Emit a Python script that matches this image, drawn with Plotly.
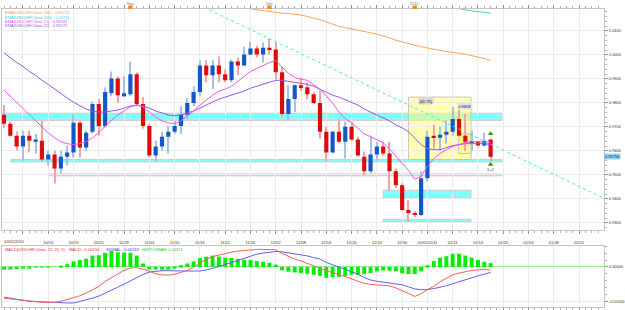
import plotly.graph_objects as go

# ---------------- data ----------------
idx = list(range(78))
opens = [.9750, .9713, .9663, .9618, .9663, .9638, .9642, .9564, .9585, .9527,
         .9576, .9593, .9717, .9614, .9680, .9795, .9704, .9840, .9902, .9828,
         .9836, .9919, .9795, .9704, .9581, .9618, .9659, .9680, .9704, .9750,
         .9799, .9845, .9956, .9915, .9956, .9919, .9894, .9972, .9956, 1.0001,
         1.0026, 1.0001, 1.0030, 1.0022, .9927, .9754, .9816, .9873, .9865, .9836,
         .9799, .9680, .9593, .9680, .9638, .9700, .9647, .9576, .9515, .9585,
         .9618, .9589, .9515, .9457, .9354, .9341, .9333, .9486, .9663, .9655,
         .9667, .9680, .9733, .9663, .9634, .9638, .9622, .9647]
highs = [.9791, .9721, .9680, .9684, .9684, .9671, .9725, .9601, .9601, .9601,
         .9622, .9754, .9725, .9684, .9807, .9816, .9865, .9931, .9910, .9910,
         .9972, .9927, .9824, .9713, .9642, .9680, .9704, .9725, .9787, .9820,
         .9869, .9977, .9977, .9977, .9993, .9939, .9981, .9989, 1.0034, 1.0055,
         1.0038, 1.0051, 1.0067, 1.0051, .9948, .9873, .9877, .9906, .9886, .9845,
         .9849, .9700, .9684, .9733, .9721, .9721, .9659, .9597, .9663, .9638,
         .9638, .9638, .9527, .9465, .9395, .9350, .9515, .9684, .9708, .9700,
         .9725, .9783, .9774, .9754, .9684, .9642, .9675, .9651]
lows = [.9696, .9659, .9601, .9556, .9593, .9589, .9556, .9539, .9465, .9506,
        .9539, .9572, .9572, .9601, .9671, .9663, .9696, .9828, .9799, .9824,
        .9828, .9787, .9692, .9576, .9556, .9601, .9589, .9671, .9671, .9733,
        .9787, .9828, .9886, .9857, .9886, .9886, .9886, .9915, .9952, .9997,
        .9989, .9968, 1.0001, .9898, .9741, .9725, .9762, .9849, .9816, .9795,
        .9651, .9556, .9589, .9634, .9568, .9642, .9576, .9498, .9506, .9556,
        .9581, .9436, .9444, .9350, .9304, .9325, .9329, .9473, .9609, .9601,
        .9630, .9663, .9663, .9601, .9601, .9618, .9618, .9556]
closes = [.9713, .9663, .9618, .9663, .9642, .9647, .9564, .9585, .9527, .9576,
          .9593, .9717, .9614, .9675, .9795, .9704, .9845, .9902, .9832, .9840,
          .9919, .9795, .9704, .9581, .9618, .9659, .9680, .9704, .9750, .9799,
          .9845, .9956, .9915, .9956, .9919, .9894, .9972, .9956, 1.0001, 1.0026,
          1.0001, 1.0030, 1.0022, .9927, .9754, .9816, .9873, .9865, .9836, .9799,
          .9680, .9593, .9680, .9638, .9700, .9647, .9581, .9515, .9585, .9618,
          .9589, .9515, .9457, .9354, .9341, .9333, .9486, .9659, .9655, .9667,
          .9680, .9733, .9663, .9638, .9638, .9622, .9642, .9576]

ema21 = [.9853, .9828, .9803, .9778, .9754, .9729, .9700, .9675, .9655, .9638,
         .9630, .9626, .9630, .9638, .9655, .9675, .9704, .9729, .9750, .9766,
         .9783, .9791, .9783, .9762, .9741, .9725, .9717, .9713, .9725, .9746,
         .9766, .9791, .9812, .9832, .9849, .9857, .9869, .9890, .9910, .9931,
         .9943, .9956, .9968, .9976, .9948, .9923, .9906, .9898, .9894, .9877,
         .9857, .9828, .9799, .9762, .9733, .9717, .9692, .9671, .9659, .9647,
         .9634, .9609, .9576, .9548, .9519, .9482, .9494, .9535, .9568, .9589,
         .9605, .9618, .9626, .9634, .9638, .9638, .9638, .9634]
ema55 = [1.0009, .9989, .9968, .9952, .9931, .9915, .9894, .9877, .9857, .9840,
         .9820, .9803, .9787, .9774, .9766, .9762, .9762, .9766, .9770, .9778,
         .9787, .9791, .9787, .9778, .9766, .9758, .9750, .9746, .9750, .9758,
         .9766, .9778, .9791, .9803, .9816, .9824, .9832, .9840, .9849, .9861,
         .9869, .9877, .9886, .9894, .9894, .9890, .9886, .9882, .9877, .9869,
         .9857, .9845, .9832, .9824, .9812, .9803, .9791, .9774, .9762, .9750,
         .9737, .9725, .9708, .9696, .9680, .9651, .9626, .9609, .9605, .9605,
         .9614, .9622, .9626, .9630, .9630, .9630, .9630, .9626]
ema100_x = list(range(38, 78))
ema100 = [1.0195, 1.0191, 1.0187, 1.0185, 1.0181, 1.0178, 1.0174, 1.0172, 1.0170, 1.0166,
          1.0160, 1.0154, 1.0146, 1.0137, 1.0127, 1.0119, 1.0113, 1.0108, 1.0104, 1.0100,
          1.0092, 1.0086, 1.0080, 1.0071, 1.0061, 1.0053, 1.0047, 1.0040, 1.0034, 1.0028,
          1.0022, 1.0018, 1.0014, 1.0012, 1.0007, 1.0003, .9997, .9991, .9985, .9978]
ema200_x = [72, 73, 74, 75, 76, 77]
ema200 = [1.0193, 1.0187, 1.0183, 1.0180, 1.0177, 1.0174]

macd_hist = [-.0008, -.0008, -.0006, -.0004, -.0004, -.0002, -.0002, -.0001, .0000, .0001,
             .0008, .0016, .0020, .0024, .0033, .0034, .0041, .0046, .0043, .0042,
             .0041, .0033, .0010, -.0008, -.0008, -.0008, -.0008, -.0005, .0005, .0010,
             .0016, .0026, .0030, .0033, .0030, .0027, .0026, .0023, .0021, .0020,
             .0017, .0015, .0012, .0007, -.0010, -.0014, -.0016, -.0018, -.0020, -.0023,
             -.0026, -.0032, -.0030, -.0029, -.0026, -.0023, -.0023, -.0021, -.0018, -.0013,
             -.0010, -.0011, -.0013, -.0019, -.0021, -.0021, -.0013, .0005, .0017, .0027,
             .0031, .0038, .0038, .0033, .0027, .0020, .0015, .0011]
macd_main = [-.0091, -.0093, -.0095, -.0098, -.0100, -.0102, -.0103, -.0103, -.0103, -.0100,
             -.0095, -.0088, -.0084, -.0076, -.0066, -.0057, -.0042, -.0032, -.0020, -.0010,
             -.0003, -.0002, -.0006, -.0014, -.0020, -.0023, -.0024, -.0022, -.0017, -.0010,
             -.0001, .0010, .0022, .0030, .0035, .0039, .0043, .0046, .0048, .0050,
             .0051, .0051, .0051, .0050, .0039, .0030, .0023, .0017, .0010, .0004,
             -.0002, -.0010, -.0017, -.0022, -.0028, -.0034, -.0040, -.0048, -.0051, -.0053,
             -.0054, -.0055, -.0061, -.0068, -.0077, -.0086, -.0078, -.0066, -.0057, -.0043,
             -.0033, -.0023, -.0018, -.0013, -.0010, -.0009, -.0007, -.0009]
macd_signal = [-.0088, -.0091, -.0096, -.0098, -.0100, -.0101, -.0102, -.0104, -.0105, -.0105,
               -.0105, -.0105, -.0101, -.0097, -.0091, -.0085, -.0077, -.0067, -.0059, -.0050,
               -.0040, -.0030, -.0022, -.0015, -.0012, -.0011, -.0011, -.0012, -.0012, -.0012,
               -.0012, -.0012, -.0009, -.0005, .0001, .0007, .0013, .0020, .0027, .0033,
               .0037, .0040, .0043, .0045, .0044, .0041, .0039, .0036, .0032, .0027,
               .0023, .0013, .0006, .0000, -.0008, -.0013, -.0021, -.0031, -.0038, -.0042,
               -.0045, -.0048, -.0050, -.0052, -.0058, -.0064, -.0066, -.0066, -.0063, -.0060,
               -.0055, -.0049, -.0043, -.0036, -.0031, -.0026, -.0021, -.0016]

# trend line anchors (bar index, price)
trend_x = [32.5, 94.9]
trend_y = [1.0187, 0.9403]

# support / resistance zones: (start bar, end bar, low price, high price)
cyan_zones = [(-0.3, 78.8, .9726, .9757), (1.1, 78.8, .9554, .9564),
              (7.1, 78.8, .9496, .9504), (60.0, 73.9, .9403, .9436),
              (60.0, 73.9, .9306, .9315)]
yellow_zones = [(64.0, 73.9, .9564, .9824, 'rgba(255,255,110,0.5)'),
                (71.9, 73.9, .9589, .9671, 'rgba(255,235,60,0.45)')]

grid_idx = list(range(3, 95, 4))
date_labels = ["", "10/13", "10/19", "10/25", "10/29", "11/04", "11/10", "11/16",
               "11/22", "11/26", "12/02", "12/08", "12/14", "12/20", "12/24", "12/30",
               "01/05/2011", "01/11", "01/14", "01/20", "01/24", "01/28", "02/01"]
month_idx = [20, 42, 65]
month_labels = ["Nov", "Dec", "2011"]
price_ticks = [0.93, 0.94, 0.95, 0.96, 0.97, 0.98, 0.99, 1.00, 1.01]
last_price = 0.95756

legend_lines = [("EMA(USDCHF,Close,100) : 0.99753", "#f0a050"),
                ("EMA(USDCHF,Close,200) : 1.01711", "#3cc8c8"),
                ("EMA(USDCHF,Close,21) : 0.96182", "#ee44ee"),
                ("EMA(USDCHF,Close,55) : 0.96279", "#9955ee")]

# ---------------- figure ----------------
FONT = "Liberation Sans"
W, H = 625, 310
ML, MR, MT, MB = 2, 20, 9, 0
PH = H - MT - MB

def py(ypix):
    return (H - MB - ypix) / PH

def px(xpix):
    return (xpix - ML) / (W - ML - MR)

fig = go.Figure()

bull = [c >= o for o, c in zip(opens, closes)]
body_base = [min(o, c) for o, c in zip(opens, closes)]
body_h = [max(abs(c - o), 0.00025) for o, c in zip(opens, closes)]
body_col = ['#1458c8' if b else '#dc0c0c' for b in bull]
wick_h = [h - l for h, l in zip(highs, lows)]
wick_col = ['#a4c2e8' if b else '#f2a4a4' for b in bull]

# wicks then bodies (bars keep trace order)
fig.add_trace(go.Bar(x=idx, y=wick_h, base=lows, width=0.17,
                     marker=dict(color=wick_col, line=dict(width=0)),
                     xaxis='x', yaxis='y', showlegend=False, hoverinfo='skip'))
fig.add_trace(go.Bar(x=idx, y=body_h, base=body_base, width=0.66,
                     marker=dict(color=body_col, line=dict(width=0)),
                     xaxis='x', yaxis='y', showlegend=False))

fig.add_trace(go.Scatter(x=idx, y=ema55, mode='lines', line=dict(color='#9955ee', width=1),
                         xaxis='x', yaxis='y', showlegend=False))
fig.add_trace(go.Scatter(x=idx, y=ema21, mode='lines', line=dict(color='#ee55ee', width=1),
                         xaxis='x', yaxis='y', showlegend=False))
fig.add_trace(go.Scatter(x=ema100_x, y=ema100, mode='lines', line=dict(color='#f5a55a', width=1),
                         xaxis='x', yaxis='y', showlegend=False))
fig.add_trace(go.Scatter(x=ema200_x, y=ema200, mode='lines', line=dict(color='#40d0d0', width=1),
                         xaxis='x', yaxis='y', showlegend=False))
fig.add_trace(go.Scatter(x=trend_x, y=trend_y, mode='lines',
                         line=dict(color='#40e8e8', width=1, dash='dot'),
                         xaxis='x', yaxis='y', showlegend=False))

# arrows on last bar
fig.add_trace(go.Scatter(x=[77, 77], y=[0.9671, 0.9543], mode='markers',
                         marker=dict(symbol='triangle-up', size=5, color='#2f9a1c'),
                         xaxis='x', yaxis='y', showlegend=False))

# MACD panel
fig.add_trace(go.Bar(x=idx, y=macd_hist, width=0.62, marker=dict(color='#00f000', line=dict(width=0)),
                     xaxis='x2', yaxis='y2', showlegend=False))
fig.add_trace(go.Scatter(x=idx, y=macd_signal, mode='lines', line=dict(color='#6060f0', width=1),
                         xaxis='x2', yaxis='y2', showlegend=False))
fig.add_trace(go.Scatter(x=idx, y=macd_main, mode='lines', line=dict(color='#f06060', width=1),
                         xaxis='x2', yaxis='y2', showlegend=False))

shapes = []
for x0, x1, p0, p1 in cyan_zones:
    shapes.append(dict(type='rect', xref='x', yref='y', x0=x0, x1=x1, y0=p0, y1=p1,
                       fillcolor='#80ffff', line=dict(color='rgba(225,185,185,0.8)', width=1),
                       layer='below'))
for x0, x1, p0, p1, col in yellow_zones:
    shapes.append(dict(type='rect', xref='x', yref='y', x0=x0, x1=x1, y0=p0, y1=p1,
                       fillcolor=col, line=dict(color='#c8c8b4', width=1), layer='below'))
for m in month_idx:
    shapes.append(dict(type='rect', xref='x', yref='paper', x0=m - 0.35, x1=m + 0.35,
                       y0=1.0, y1=1.012, fillcolor='#f08c1e', line=dict(width=0)))

annotations = []
for k, (txt, col) in enumerate(legend_lines):
    annotations.append(dict(xref='paper', yref='paper', x=px(3), y=py(13 + 4.1 * k),
                            text=txt, showarrow=False, xanchor='left', yanchor='middle',
                            font=dict(family=FONT, size=4, color=col)))
for m, lab in zip(month_idx, month_labels):
    annotations.append(dict(xref='x', yref='paper', x=m, y=py(3), text=lab, showarrow=False,
                            xanchor='center', yanchor='middle',
                            font=dict(family=FONT, size=4, color='#707090')))
annotations.append(dict(xref='paper', yref='paper', x=0, y=py(244), text="10/01/2010",
                        showarrow=False, xanchor='left', yanchor='middle',
                        font=dict(family=FONT, size=4, color='#333')))
annotations.append(dict(xref='paper', yref='y', x=1.0, y=last_price, text="0.95756",
                        showarrow=False, xanchor='left', yanchor='middle', xshift=0,
                        bgcolor='#8fd4f4', borderpad=0,
                        font=dict(family=FONT, size=4, color='#102040')))
annotations.append(dict(xref='x', yref='y', x=66.8, y=0.9807, text="(60.75)", showarrow=False,
                        bgcolor='#d8d8d8', borderpad=0.5,
                        font=dict(family=FONT, size=4, color='#222')))
annotations.append(dict(xref='x', yref='y', x=72.9, y=0.9787, text="0.9808", showarrow=False,
                        bgcolor='#e4e4e4', borderpad=0.5,
                        font=dict(family=FONT, size=4, color='#222')))
annotations.append(dict(xref='x', yref='y', x=77, y=0.9523, text="1+2", showarrow=False,
                        font=dict(family=FONT, size=4, color='#333')))
annotations.append(dict(xref='paper', yref='paper', x=px(3), y=py(252),
                        text="MACD(USDCHF,Close, 12, 26, 9) :  MACD: -0.00130", showarrow=False,
                        xanchor='left', yanchor='middle', font=dict(family=FONT, size=4, color='#e83030')))
annotations.append(dict(xref='paper', yref='paper', x=px(104), y=py(252),
                        text="SIGNAL: -0.00243", showarrow=False,
                        xanchor='left', yanchor='middle', font=dict(family=FONT, size=4, color='#3030e0')))
annotations.append(dict(xref='paper', yref='paper', x=px(140), y=py(252),
                        text="HISTOGRAM: 0.00113", showarrow=False,
                        xanchor='left', yanchor='middle', font=dict(family=FONT, size=4, color='#20c020')))

xr = [-0.316, 94.94]
axis_common = dict(range=xr, tickvals=grid_idx, showgrid=True, gridcolor='#ebebeb', gridwidth=1,
                   showline=True, linecolor='#c4c4c4', linewidth=1, zeroline=False,
                   ticks='outside', ticklen=3, tickcolor='#909090', tickwidth=1,
                   minor=dict(tickmode='linear', tick0=0, dtick=1, ticklen=2, tickcolor='#b0b0b0',
                              showgrid=False),
                   tickfont=dict(family=FONT, size=4, color='#333'))

fig.update_layout(
    width=W, height=H, margin=dict(l=ML, r=MR, t=MT, b=MB),
    paper_bgcolor='white', plot_bgcolor='white', showlegend=False,
    barmode='overlay', shapes=shapes, annotations=annotations,
    xaxis=dict(axis_common, domain=[0, 1], anchor='y', ticktext=date_labels, mirror='allticks',
               ticklabelstandoff=5),
    xaxis2=dict(axis_common, domain=[0, 1], anchor='y2', matches='x', showticklabels=False,
                mirror=True),
    yaxis=dict(domain=[py(232), 1], range=[0.92713, 1.0191], side='right',
               tickvals=price_ticks, tickformat='.4f', showgrid=True, gridcolor='#ebebeb',
               showline=True, linecolor='#c4c4c4', mirror=True, zeroline=False,
               ticks='outside', ticklen=3, tickcolor='#909090',
               minor=dict(tickmode='linear', tick0=0.93, dtick=0.002, ticklen=2, tickcolor='#b0b0b0'),
               tickfont=dict(family=FONT, size=4, color='#333')),
    yaxis2=dict(domain=[0, py(248)], range=[-0.01167, 0.0062], side='right',
                tickvals=[0.0, -0.01], ticktext=["0.00000", "-0.01000"], showgrid=True,
                gridcolor='#ebebeb', showline=True, linecolor='#c4c4c4', mirror=True,
                zeroline=True, zerolinecolor='#90f090', zerolinewidth=1,
                ticks='outside', ticklen=3, tickcolor='#909090',
                minor=dict(tickmode='linear', tick0=0, dtick=0.002, ticklen=2, tickcolor='#b0b0b0'),
                tickfont=dict(family=FONT, size=4, color='#333')),
)

fig.write_html("out.html")
